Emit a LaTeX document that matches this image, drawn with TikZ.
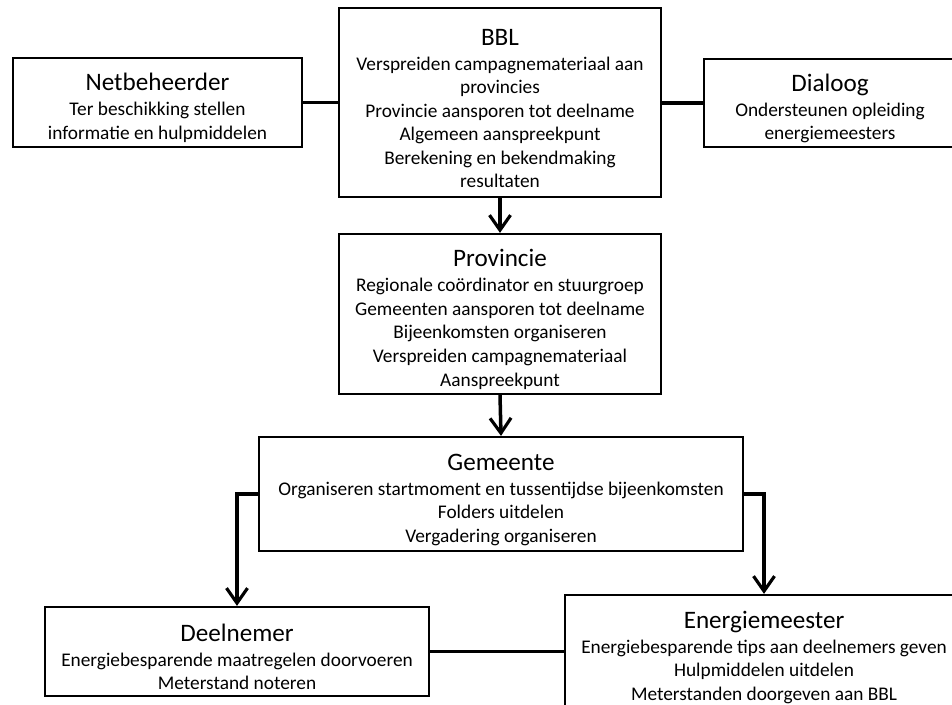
\documentclass[tikz,border=0pt]{standalone}
\usepackage{fontspec}
\setmainfont{Carlito}
\usetikzlibrary{arrows.meta}
\newcommand\kop[1]{{\fontsize{14.3}{17}\selectfont\rule{0pt}{16pt}#1}\\[0.8pt]}

\begin{document}
\begin{tikzpicture}[x=0.02cm,y=-0.02cm,
  box/.style={draw,line width=1.3pt,align=center,inner sep=0pt,fill=white,
    font=\fontsize{11}{13.4}\selectfont},
  link/.style={line width=2pt},
  pijl/.style={link,-{Straight Barb[length=3mm,width=4.2mm,line width=1.8pt]}}]
\useasboundingbox (0,0) rectangle (952,705);
\clip (0,0) rectangle (952,705);

% bovenste rij
\node[box,minimum width=6.44cm,minimum height=3.78cm] (bbl) at (500,102.5)
  {\kop{BBL}Verspreiden campagnemateriaal aan\\provincies\\Provincie aansporen tot deelname\\Algemeen aanspreekpunt\\Berekening en bekendmaking\\resultaten};
\node[box,minimum width=5.78cm,minimum height=1.78cm] (net) at (157.5,102.5)
  {\kop{Netbeheerder}Ter beschikking stellen\\informatie en hulpmiddelen};
\node[box,minimum width=5.04cm,minimum height=1.76cm] (dia) at (830,103)
  {\kop{Dialoog}Ondersteunen opleiding\\energiemeesters};

% midden
\node[box,minimum width=6.44cm,minimum height=3.2cm] (prov) at (500,314)
  {\kop{Provincie}Regionale coördinator en stuurgroep\\Gemeenten aansporen tot deelname\\Bijeenkomsten organiseren\\Verspreiden campagnemateriaal\\Aanspreekpunt};
\node[box,minimum width=9.68cm,minimum height=2.28cm] (gem) at (501,494)
  {\kop{Gemeente}Organiseren startmoment en tussentijdse bijeenkomsten\\Folders uitdelen\\Vergadering organiseren};

% onderste rij
\node[box,minimum width=7.68cm,minimum height=1.78cm] (deel) at (237,651.5)
  {\kop{Deelnemer}Energiebesparende maatregelen doorvoeren\\Meterstand noteren};
\node[box,minimum width=7.96cm,minimum height=2.28cm] (ener) at (764,652)
  {\kop{Energiemeester}Energiebesparende tips aan deelnemers geven\\Hulpmiddelen uitdelen\\Meterstanden doorgeven aan BBL};

\draw[link] (net.east) -- (net.east -| bbl.west);
\draw[link] (bbl.east |- dia.west) -- (dia.west);
\draw[link] (deel.east) -- (deel.east -| ener.west);

\draw[pijl] (bbl.south) -- (prov.north);
\draw[pijl] (prov.south) -- (gem.north);
\draw[pijl] (gem.west) -| (deel.north);
\draw[pijl] (gem.east) -| (ener.north);

\end{tikzpicture}
\end{document}
